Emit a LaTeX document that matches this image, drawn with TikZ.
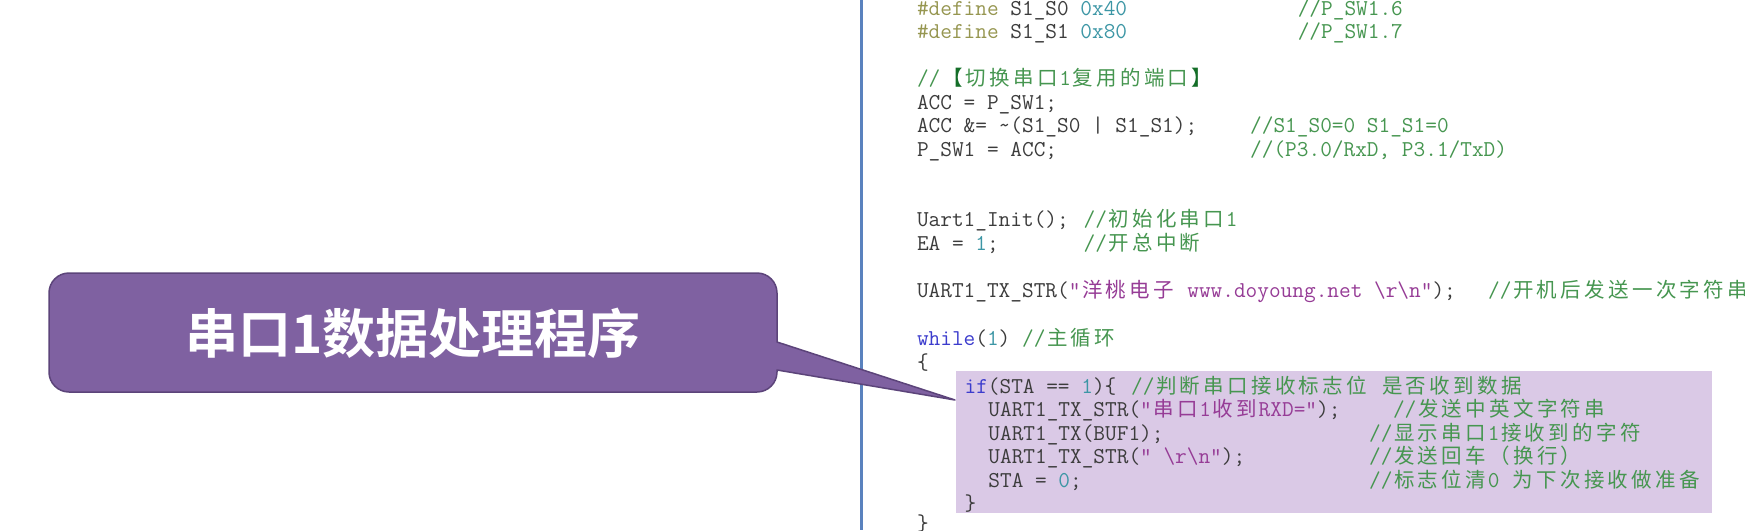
\documentclass[tikz,border=0pt]{standalone}
\usepackage{fontspec}
\usepackage{xcolor}
\newfontfamily\cjkfont{Noto Sans CJK SC}
\newfontfamily\calfont{Noto Sans CJK SC}[BoldFont={Noto Sans CJK SC Bold}]
\definecolor{cgray}{RGB}{60,60,60}
\definecolor{cdef}{RGB}{150,150,80}
\definecolor{cnum}{RGB}{60,150,165}
\definecolor{ccom}{RGB}{70,150,80}
\definecolor{cstr}{RGB}{150,60,150}
\definecolor{ckw}{RGB}{60,60,205}
\definecolor{cbr}{RGB}{20,110,40}
\definecolor{chl}{RGB}{218,201,230}
\definecolor{cline}{RGB}{90,130,190}
\definecolor{cfill}{RGB}{127,97,161}
\definecolor{cedge}{RGB}{92,68,122}
\makeatletter
\def\cj#1{{\cjkfont\fontsize{20.5}{23.5}\selectfont\cj@loop#1\@nil}}
\def\cj@loop#1{\ifx#1\@nil\else\makebox[23.8pt]{#1}\expandafter\cj@loop\fi}
\makeatother
\newcommand\bs{\textbackslash}
\tikzset{
  code/.style={anchor=base west, inner sep=0pt, outer sep=0pt,
    font=\ttfamily\fontsize{22.67}{23.5}\selectfont, text=cgray},
  com/.style={code, text=ccom},
  callout/.style={fill=cfill, draw=cedge, line width=1.5pt, line join=round},
  callouttext/.style={inner sep=0pt, text=white,
    font=\calfont\bfseries\fontsize{53}{60}\selectfont}
}
\begin{document}
\begin{tikzpicture}[x=1pt,y=-1pt]
\useasboundingbox (0,0) rectangle (1745,530);
\clip (0,0) rectangle (1745,530);
\fill[white] (0,0) rectangle (1745,530);
% editor separator line
\draw[cline, line width=3pt] (861,0) -- (861,530);
% highlight
\fill[chl] (956,371) rectangle (1712,513);
% code lines
\node[code] (l1) at (917,15) {\textcolor{cdef}{\#define} S1\_S0 \textcolor{cnum}{0x40}};
\node[com] (l1c) at (1297.8,15) {//P\_SW1.6};
\node[code] (l2) at (917,38.5) {\textcolor{cdef}{\#define} S1\_S1 \textcolor{cnum}{0x80}};
\node[com] (l2c) at (1297.8,38.5) {//P\_SW1.7};
\node[com] (l4) at (917,85.5) {//\textcolor{cbr}{\cj{【}}\cj{切换串口}1\cj{复用的端口}\textcolor{cbr}{\cj{】}}};
\node[code] (l5) at (917,109) {ACC = P\_SW1;};
\node[code] (l6) at (917,132.5) {ACC \&= \string~(S1\_S0 | S1\_S1);};
\node[com] (l6c) at (1250.2,132.5) {//S1\_S0=0 S1\_S1=0};
\node[code] (l7) at (917,156) {P\_SW1 = ACC;};
\node[com] (l7c) at (1250.2,156) {//(P3.0/RxD, P3.1/TxD)};
\node[code] (l10) at (917,226.5) {Uart1\_Init();};
\node[com] (l10c) at (1083.6,226.5) {//\cj{初始化串口}1};
\node[code] (l11) at (917,250) {EA = \textcolor{cnum}{1};};
\node[com] (l11c) at (1083.6,250) {//\cj{开总中断}};
\node[code] (l13) at (917,297) {UART1\_TX\_STR(\textcolor{cstr}{"\cj{洋桃电子} www.doyoung.net \bs r\bs n"});};
\node[com] (l13c) at (1488.2,297) {//\cj{开机后发送一次字符串}};
\node[code] (l15) at (917,345) {\textcolor{ckw}{while}(\textcolor{cnum}{1}) \textcolor{ccom}{//\cj{主循环}}};
\node[code] (l16) at (917,369) {\{};
\node[code] (l17) at (964.6,393) {\textcolor{ckw}{if}(STA == \textcolor{cnum}{1})\{};
\node[com] (l17c) at (1131.2,393) {//\cj{判断串口接收标志位} \cj{是否收到数据}};
\node[code] (l18) at (988.4,416.5) {UART1\_TX\_STR(\textcolor{cstr}{"\cj{串口}1\cj{收到}RXD="});};
\node[com] (l18c) at (1393,416.5) {//\cj{发送中英文字符串}};
\node[code] (l19) at (988.4,440) {UART1\_TX(BUF1);};
\node[com] (l19c) at (1369.2,440) {//\cj{显示串口}1\cj{接收到的字符}};
\node[code] (l20) at (988.4,463.5) {UART1\_TX\_STR(\textcolor{cstr}{" \bs r\bs n"});};
\node[com] (l20c) at (1369.2,463.5) {//\cj{发送回车（换行）}};
\node[code] (l21) at (988.4,487) {STA = \textcolor{cnum}{0};};
\node[com] (l21c) at (1369.2,487) {//\cj{标志位清}0 \cj{为下次接收做准备}};
\node[code] (l22) at (964.6,510) {\}};
\node[code] (l23) at (917,530) {\}};
% callout
\draw[callout] (69,273) -- (757,273) arc[start angle=-90, end angle=0, radius=20]
  -- (777,342) -- (955,400) -- (777,370) -- (777,372)
  arc[start angle=0, end angle=90, radius=20] -- (69,392)
  arc[start angle=90, end angle=180, radius=20] -- (49,293)
  arc[start angle=180, end angle=270, radius=20] -- cycle;
\node[callouttext] (ct) at (413,333) {串口1数据处理程序};
\end{tikzpicture}
\end{document}
